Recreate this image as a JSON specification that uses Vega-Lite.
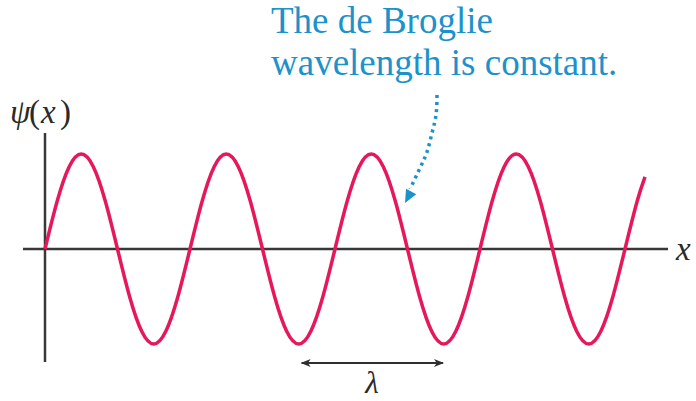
{
  "$schema": "https://vega.github.io/schema/vega-lite/v6.json",
  "width": 696,
  "height": 401,
  "autosize": {"type": "none"},
  "padding": 0,
  "background": "white",
  "config": {"view": {"stroke": null}},
  "encoding": {
    "x": {"field": "x", "type": "quantitative", "axis": null, "scale": {"domain": [-0.3103, 4.4897], "nice": false, "zero": false}},
    "y": {"field": "y", "type": "quantitative", "axis": null, "scale": {"domain": [-1.6, 2.6211], "nice": false, "zero": false}}
  },
  "layer": [
    {
      "data": {"values": [{"x": -0.1517, "x2": 4.2966, "y": 0}]},
      "mark": {"type": "rule", "color": "#383838", "strokeWidth": 2.5},
      "encoding": {"x2": {"field": "x2"}}
    },
    {
      "data": {"values": [{"x": 0, "y": -1.1895, "y2": 1.2211}]},
      "mark": {"type": "rule", "color": "#383838", "strokeWidth": 2.5},
      "encoding": {"y2": {"field": "y2"}}
    },
    {
      "data": {"values": [
        {"x": 0, "y": 0}, {"x": 0.0833, "y": 0.5}, {"x": 0.1667, "y": 0.866}, {"x": 0.25, "y": 1}, {"x": 0.3333, "y": 0.866}, {"x": 0.4167, "y": 0.5},
        {"x": 0.5, "y": 0}, {"x": 0.5833, "y": -0.5}, {"x": 0.6667, "y": -0.866}, {"x": 0.75, "y": -1}, {"x": 0.8333, "y": -0.866}, {"x": 0.9167, "y": -0.5},
        {"x": 1, "y": 0}, {"x": 1.0833, "y": 0.5}, {"x": 1.1667, "y": 0.866}, {"x": 1.25, "y": 1}, {"x": 1.3333, "y": 0.866}, {"x": 1.4167, "y": 0.5},
        {"x": 1.5, "y": 0}, {"x": 1.5833, "y": -0.5}, {"x": 1.6667, "y": -0.866}, {"x": 1.75, "y": -1}, {"x": 1.8333, "y": -0.866}, {"x": 1.9167, "y": -0.5},
        {"x": 2, "y": 0}, {"x": 2.0833, "y": 0.5}, {"x": 2.1667, "y": 0.866}, {"x": 2.25, "y": 1}, {"x": 2.3333, "y": 0.866}, {"x": 2.4167, "y": 0.5},
        {"x": 2.5, "y": 0}, {"x": 2.5833, "y": -0.5}, {"x": 2.6667, "y": -0.866}, {"x": 2.75, "y": -1}, {"x": 2.8333, "y": -0.866}, {"x": 2.9167, "y": -0.5},
        {"x": 3, "y": 0}, {"x": 3.0833, "y": 0.5}, {"x": 3.1667, "y": 0.866}, {"x": 3.25, "y": 1}, {"x": 3.3333, "y": 0.866}, {"x": 3.4167, "y": 0.5},
        {"x": 3.5, "y": 0}, {"x": 3.5833, "y": -0.5}, {"x": 3.6667, "y": -0.866}, {"x": 3.75, "y": -1}, {"x": 3.8333, "y": -0.866}, {"x": 3.9167, "y": -0.5},
        {"x": 4, "y": 0}, {"x": 4.0833, "y": 0.5}, {"x": 4.138, "y": 0.76}
      ]},
      "mark": {"type": "line", "color": "#e6185a", "strokeWidth": 3.5, "interpolate": "natural", "strokeCap": "butt"},
      "encoding": {}
    },
    {
      "data": {"values": [{"x": 1.77, "x2": 2.745, "y": -1.2}]},
      "mark": {"type": "rule", "color": "#2f2f2f", "strokeWidth": 2},
      "encoding": {"x2": {"field": "x2"}}
    },
    {
      "data": {"values": [{"x": 1.7634, "y": -1.2}]},
      "mark": {"type": "point", "shape": "M0,0L2.5,-1L1.8,0L2.5,1Z", "size": 64, "filled": true, "color": "#2f2f2f", "opacity": 1},
      "encoding": {}
    },
    {
      "data": {"values": [{"x": 2.7517, "y": -1.2}]},
      "mark": {"type": "point", "shape": "M0,0L-2.5,-1L-1.8,0L-2.5,1Z", "size": 64, "filled": true, "color": "#2f2f2f", "opacity": 1},
      "encoding": {}
    },
    {
      "data": {"values": [
        {"i": 0, "x": 2.7034, "y": 1.6211},
        {"i": 1, "x": 2.6966, "y": 1.4105},
        {"i": 2, "x": 2.669, "y": 1.2211},
        {"i": 3, "x": 2.6345, "y": 1.0211},
        {"i": 4, "x": 2.5862, "y": 0.8526},
        {"i": 5, "x": 2.531, "y": 0.6737},
        {"i": 6, "x": 2.5172, "y": 0.6421}
      ]},
      "mark": {"type": "line", "color": "#1c92cb", "strokeWidth": 3.5, "strokeDash": [3, 4], "interpolate": "natural"},
      "encoding": {"order": {"field": "i", "type": "quantitative"}}
    },
    {
      "data": {"values": [{"x": 2.4828, "y": 0.4842}]},
      "mark": {"type": "point", "shape": "M0,0L-2.5,-1.1L-2.5,1.1Z", "size": 110, "angle": 118, "filled": true, "color": "#1c92cb", "opacity": 1},
      "encoding": {}
    },
    {
      "data": {"values": [
        {"x": 1.5586, "y": 2.2737, "label": "The de Broglie"},
        {"x": 1.5586, "y": 1.8316, "label": "wavelength is constant."}
      ]},
      "mark": {"type": "text", "font": "Liberation Serif", "fontSize": 37, "color": "#1c92cb", "align": "left", "baseline": "alphabetic"},
      "encoding": {"text": {"field": "label"}}
    },
    {
      "data": {"values": [
        {"x": 2.2552, "y": -1.516, "label": "λ"}
      ]},
      "mark": {"type": "text", "font": "Liberation Serif", "fontSize": 31, "fontStyle": "italic", "color": "#2a2a2a", "align": "center", "baseline": "alphabetic"},
      "encoding": {"text": {"field": "label"}}
    },
    {
      "data": {"values": [
        {"x": 4.3517, "y": -0.1158, "label": "x"}
      ]},
      "mark": {"type": "text", "font": "Liberation Serif", "fontSize": 33, "fontStyle": "italic", "color": "#2a2a2a", "align": "left", "baseline": "alphabetic"},
      "encoding": {"text": {"field": "label"}}
    },
    {
      "data": {"values": [
        {"x": -0.2414, "y": 1.3263, "label": "ψ"},
        {"x": -0.0276, "y": 1.3263, "label": "x"}
      ]},
      "mark": {"type": "text", "font": "Liberation Serif", "fontSize": 33, "fontStyle": "italic", "color": "#2a2a2a", "align": "left", "baseline": "alphabetic"},
      "encoding": {"text": {"field": "label"}}
    },
    {
      "data": {"values": [
        {"x": -0.1103, "y": 1.3263, "label": "("},
        {"x": 0.1034, "y": 1.3263, "label": ")"}
      ]},
      "mark": {"type": "text", "font": "Liberation Serif", "fontSize": 33, "color": "#2a2a2a", "align": "left", "baseline": "alphabetic"},
      "encoding": {"text": {"field": "label"}}
    }
  ]
}
